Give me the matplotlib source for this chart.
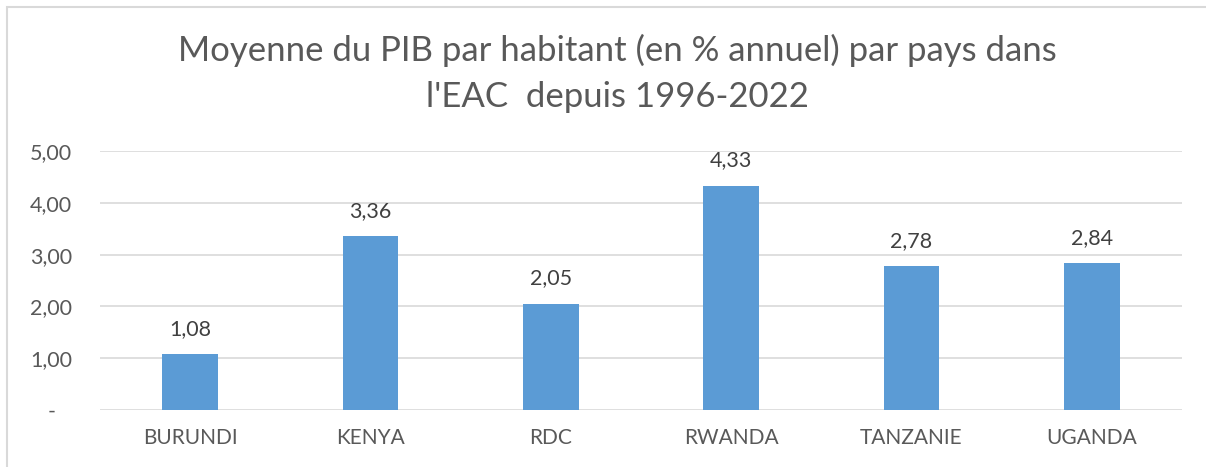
import matplotlib
matplotlib.use("Agg")
import matplotlib.pyplot as plt
from matplotlib.patches import Rectangle

countries = ["BURUNDI", "KENYA", "RDC", "RWANDA", "TANZANIE", "UGANDA"]
pib_moyen = [1.08, 3.36, 2.05, 4.33, 2.78, 2.84]
y_ticks = [0, 1, 2, 3, 4, 5]
y_labels = ["-   ", "1,00", "2,00", "3,00", "4,00", "5,00"]

text_col = "#595959"
grid_col = "#D9D9D9"
bar_col = "#5B9BD5"

plt.rcParams['font.family'] = ['Lato', 'DejaVu Sans']

fig = plt.figure(figsize=(12.06, 4.67), dpi=100)
ax = fig.add_axes([100 / 1206, 1 - 410 / 467, 1082 / 1206, 259 / 467])

# chart border like the excel frame
fig.patches.append(Rectangle((7 / 1206, -0.05), 1.2, 1 - 7 / 467 + 0.05,
                             transform=fig.transFigure, fill=False,
                             edgecolor=grid_col, linewidth=1.5))

x = list(range(len(countries)))
bars = ax.bar(x, pib_moyen, width=0.31, color=bar_col, zorder=3)

for xi, v in zip(x, pib_moyen):
    ax.annotate(f"{v:.2f}".replace(".", ","), (xi, v), xytext=(0, 11),
                textcoords="offset points", ha="center", va="bottom",
                fontsize=15.5, color="#404040")

ax.set_xlim(-0.5, len(countries) - 0.5)
ax.set_ylim(0, 5)
ax.set_yticks(y_ticks)
ax.set_yticklabels(y_labels)
ax.set_xticks(x)
ax.set_xticklabels(countries)
ax.tick_params(axis="y", length=0, pad=20, labelsize=15.5, labelcolor=text_col)
ax.tick_params(axis="x", length=0, pad=13, labelsize=15, labelcolor=text_col)
ax.grid(axis="y", color=grid_col, linewidth=1.2, zorder=0)
for s in ax.spines.values():
    s.set_visible(False)

fig.text(0.5 + 14 / 1206, 1 - 50 / 467, "Moyenne du PIB par habitant (en % annuel) par pays dans",
         ha="center", va="center", fontsize=25, color=text_col)
fig.text(0.5 + 14 / 1206, 1 - 97 / 467, "l'EAC  depuis 1996-2022",
         ha="center", va="center", fontsize=25, color=text_col)

fig.savefig("out.png", dpi=100)
